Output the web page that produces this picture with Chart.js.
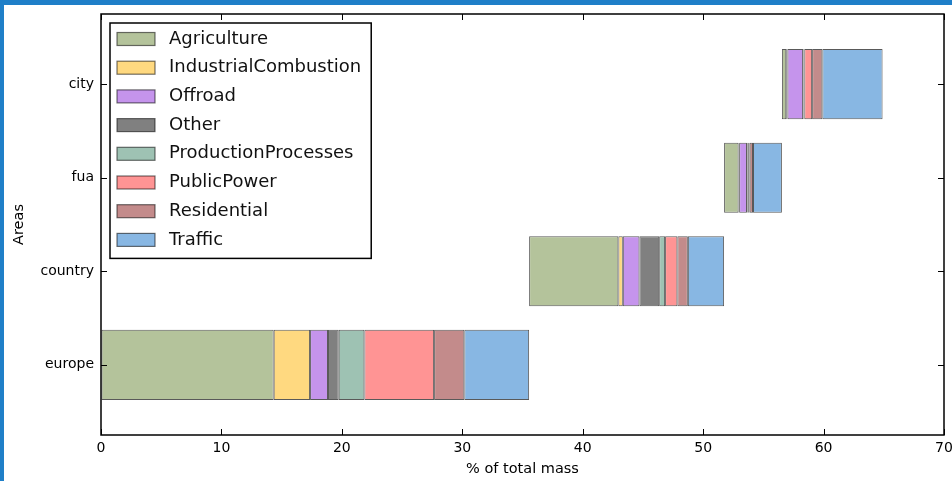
<!DOCTYPE html>
<html>
<head>
<meta charset="utf-8">
<script src="https://cdn.jsdelivr.net/npm/chart.js@4.4.1/dist/chart.umd.min.js"></script>
<style>
  html, body { margin: 0; padding: 0; background: #fff; }
  .wrap { position: relative; width: 952px; height: 481px; overflow: hidden; }
  .wrap canvas { position: absolute; left: 0; top: 0; }
  .edge-top { position: absolute; left: 0; top: 0; width: 952px; height: 5px; background: #1f7fc8; }
  .edge-left { position: absolute; left: 0; top: 0; width: 4px; height: 481px; background: #1f7fc8; }
</style>
</head>
<body>
<div class="wrap">
  <canvas id="chart" width="952" height="481"></canvas>
  <div class="edge-top"></div>
  <div class="edge-left"></div>
</div>
<script>
// areas from bottom to top
const areas = ['europe', 'country', 'fua', 'city'];
const sectors = ['Agriculture', 'IndustrialCombustion', 'Offroad', 'Other',
  'ProductionProcesses', 'PublicPower', 'Residential', 'Traffic'];

// % of total mass, one value per area
const agriculture = [14.34, 7.41, 1.2, 0.36];
const industrialCombustion = [3.02, 0.37, 0.05, 0.1];
const offroad = [1.49, 1.38, 0.65, 1.3];
const other = [0.89, 1.64, 0.05, 0.05];
const productionProcesses = [2.13, 0.49, 0.05, 0.05];
const publicPower = [5.79, 1.02, 0.12, 0.65];
const residential = [2.51, 0.87, 0.28, 0.85];
const traffic = [5.38, 3.01, 2.4, 5.0];

const xTicks = [0, 10, 20, 30, 40, 50, 60, 70];

const sectorValues = [agriculture, industrialCombustion, offroad, other,
  productionProcesses, publicPower, residential, traffic];
const colors = ['#b4c39b', '#ffd980', '#c594ec', '#808080',
  '#9ec2b3', '#ff9494', '#c38b8b', '#88b7e3'];

// each area continues where the previous one ended
let start = 0;
const ranges = sectors.map(() => []);
areas.forEach((area, i) => {
  sectorValues.forEach((vals, s) => {
    ranges[s].push({ y: i, x: [start, start + vals[i]] });
    start += vals[i];
  });
});

const font = '"DejaVu Sans", sans-serif';

// frame + inward ticks on all four sides
const frameTicks = {
  id: 'frameTicks',
  afterDatasetsDraw(chart) {
    const { ctx, chartArea: a, scales: { x, y } } = chart;
    const len = 6;
    ctx.save();
    ctx.strokeStyle = '#000';
    ctx.lineWidth = 1;
    ctx.beginPath();
    x.ticks.forEach((t) => {
      const px = Math.round(x.getPixelForValue(t.value)) + 0.5;
      ctx.moveTo(px, a.bottom); ctx.lineTo(px, a.bottom - len);
      ctx.moveTo(px, a.top); ctx.lineTo(px, a.top + len);
    });
    y.ticks.forEach((t) => {
      const py = Math.round(y.getPixelForValue(t.value)) + 0.5;
      ctx.moveTo(a.left, py); ctx.lineTo(a.left + len, py);
      ctx.moveTo(a.right, py); ctx.lineTo(a.right - len, py);
    });
    ctx.stroke();
    ctx.lineWidth = 1.5;
    ctx.strokeRect(a.left, a.top, a.right - a.left, a.bottom - a.top);
    ctx.restore();
  }
};

// boxed legend in the upper left corner of the plot
const boxLegend = {
  id: 'boxLegend',
  afterDraw(chart) {
    const { ctx, chartArea: a } = chart;
    const sets = chart.data.datasets;
    ctx.save();
    ctx.font = '18px ' + font;
    const textW = Math.max(...sets.map((ds) => ctx.measureText(ds.label).width));
    const left = a.left + 9, top = a.top + 9;
    const rowH = 28.7;
    const w = 59 + textW + 10;
    const h = 16 + (sets.length - 1) * rowH + 18.5;
    ctx.fillStyle = '#fff';
    ctx.fillRect(left, top, w, h);
    ctx.lineWidth = 1.5;
    ctx.strokeStyle = '#000';
    ctx.strokeRect(left, top, w, h);
    sets.forEach((ds, i) => {
      const cy = top + 16 + i * rowH;
      ctx.fillStyle = ds.backgroundColor;
      ctx.fillRect(left + 7, cy - 6.5, 38, 13);
      ctx.strokeStyle = 'rgba(0,0,0,0.55)';
      ctx.lineWidth = 1.2;
      ctx.strokeRect(left + 7, cy - 6.5, 38, 13);
      ctx.fillStyle = '#111';
      ctx.textBaseline = 'middle';
      ctx.textAlign = 'left';
      ctx.fillText(ds.label, left + 59, cy);
    });
    ctx.restore();
  }
};

new Chart(document.getElementById('chart'), {
  type: 'bar',
  data: {
    datasets: sectors.map((name, s) => ({
      label: name,
      data: ranges[s],
      backgroundColor: colors[s],
      borderColor: 'rgba(0,0,0,0.65)',
      borderWidth: 1,
      borderSkipped: false,
      grouped: false,
      categoryPercentage: 0.75,
      barPercentage: 1
    }))
  },
  options: {
    indexAxis: 'y',
    responsive: false,
    animation: false,
    layout: { padding: { top: 14, right: 8, left: 0, bottom: 0 } },
    scales: {
      x: {
        type: 'linear',
        min: 0,
        max: 70,
        afterBuildTicks: (scale) => { scale.ticks = xTicks.map((v) => ({ value: v })); },
        afterFit: (scale) => {
          scale.height = 46;
          scale.paddingLeft = 0;
          scale.paddingRight = 0;
        },
        grid: { display: true, drawOnChartArea: false, drawTicks: false },
        border: { display: false },
        ticks: { padding: 5, color: '#000', font: { family: font, size: 14 } },
        title: {
          display: true,
          text: '% of total mass',
          color: '#000',
          font: { family: font, size: 14.5 },
          padding: { top: 0, bottom: 3 }
        }
      },
      y: {
        type: 'linear',
        min: -0.75,
        max: 3.75,
        offset: false,
        afterBuildTicks: (scale) => { scale.ticks = areas.map((a, i) => ({ value: i })); },
        afterFit: (scale) => {
          scale.width = 101;
          scale.paddingTop = 0;
          scale.paddingBottom = 0;
        },
        grid: { display: true, drawOnChartArea: false, drawTicks: false, offset: false },
        border: { display: false },
        ticks: {
          padding: 7,
          color: '#000',
          font: { family: font, size: 14 },
          callback: (v) => areas[v]
        },
        title: {
          display: true,
          text: 'Areas',
          color: '#000',
          font: { family: font, size: 14.5 },
          padding: { top: 11, bottom: 0 }
        }
      }
    },
    plugins: {
      legend: { display: false },
      tooltip: { enabled: false }
    }
  },
  plugins: [frameTicks, boxLegend]
});
</script>
</body>
</html>
